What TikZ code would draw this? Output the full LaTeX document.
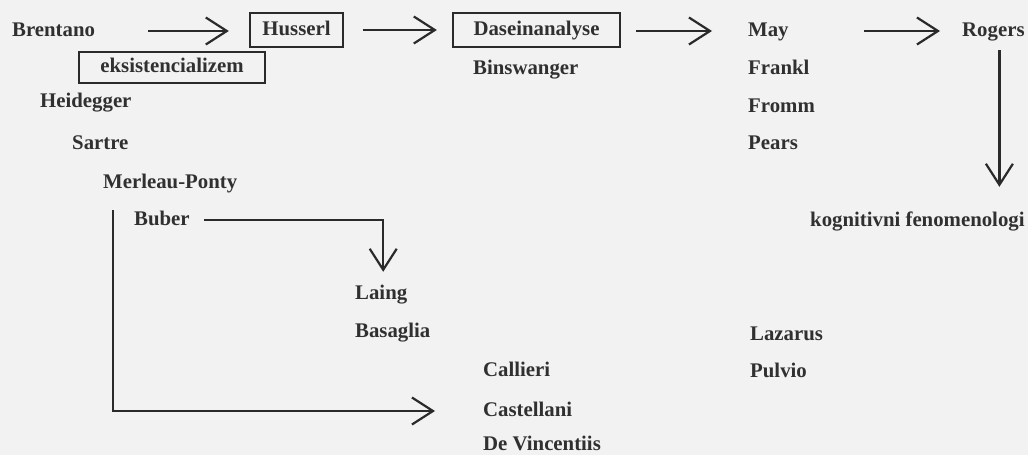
\documentclass[tikz,border=0pt]{standalone}
\usepackage{fontspec}
\setmainfont{Liberation Serif}
\usetikzlibrary{arrows.meta,calc}
\definecolor{ln}{HTML}{2A2A2A}
\definecolor{txt}{HTML}{303030}
\definecolor{paper}{HTML}{F2F2F2}
\tikzset{
  lbl/.style={anchor=west, inner sep=0pt, text height=14pt, text depth=4pt, text=txt},
  bx/.style={draw=ln, line width=2.3pt, inner sep=0pt, text height=14pt, text depth=4pt, text=txt},
  arr/.style={draw=ln, line width=2.2pt, -{Straight Barb[length=21pt,width=27pt]}},
}
\begin{document}
\begin{tikzpicture}[x=1pt,y=-1pt,font=\fontsize{20.8}{25}\selectfont\bfseries]
\fill[paper] (0,0) rectangle (1028,455);
\useasboundingbox (0,0) rectangle (1028,455);
% row 1
\node[lbl] (Brentano) at (12,31) {Brentano};
\node[bx, minimum width=93pt, minimum height=34pt] (Husserl) at (296.5,30) {Husserl};
\node[bx, minimum width=167pt, minimum height=34pt] (Dasein) at (536.5,30) {Daseinanalyse};
\node[lbl] (May) at (748,31) {May};
\node[lbl] (Rogers) at (962,31) {Rogers};
\node[bx, minimum width=186pt, minimum height=31pt] (eks) at (172,67.5) {eksistencializem};
\node[lbl] (Binswanger) at (473,69) {Binswanger};
\node[lbl] (Frankl) at (748,69) {Frankl};
\node[lbl] (Fromm) at (748,107) {Fromm};
\node[lbl] (Pears) at (748,144) {Pears};
\node[lbl] (Heidegger) at (40,102) {Heidegger};
\node[lbl] (Sartre) at (72,144) {Sartre};
\node[lbl] (MP) at (103,183) {Merleau-Ponty};
\node[lbl] (Buber) at (134,220) {Buber};
\node[lbl] (kog) at (810,221) {kognitivni fenomenologi};
\node[lbl] (Laing) at (355,294) {Laing};
\node[lbl] (Basaglia) at (355,332) {Basaglia};
\node[lbl] (Lazarus) at (750,335) {Lazarus};
\node[lbl] (Pulvio) at (750,372) {Pulvio};
\node[lbl] (Callieri) at (483,371) {Callieri};
\node[lbl] (Castellani) at (483,411) {Castellani};
\node[lbl] (DeVincentiis) at (483,445) {De Vincentiis};
% connectors
\draw[arr, shorten <=53pt, shorten >=20pt] (Brentano.east) -- (Husserl.west |- Brentano.east);
\draw[arr, shorten <=19pt, shorten >=15pt] (Husserl.east) -- (Dasein.west);
\draw[arr, shorten <=15pt, shorten >=36pt] (Dasein.east |- May.west) -- (May.west);
\draw[arr, shorten <=75pt, shorten >=22pt] (May.east) -- (Rogers.west);
\draw[arr, shorten <=10pt, shorten >=25pt] ([xshift=6pt]Rogers.south) -- ([xshift=6pt]Rogers.south |- kog.north);
\draw[arr, shorten <=14pt, shorten >=13pt] (Buber.east) -| ([xshift=2pt]Laing.north);
\draw[arr, shorten >=48pt] ($(MP.south west)+(10,18)$) |- (Castellani.west);
\end{tikzpicture}
\end{document}
